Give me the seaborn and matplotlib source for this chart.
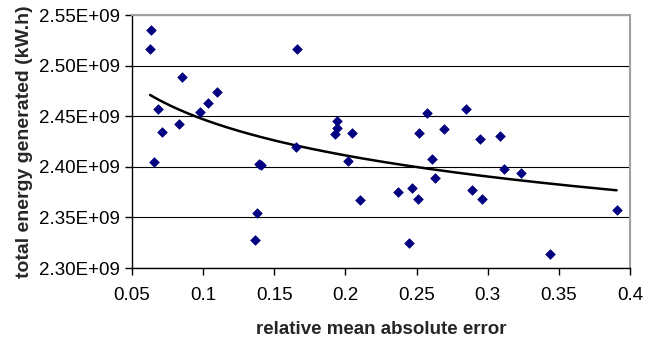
import numpy as np
import pandas as pd
import matplotlib
matplotlib.use("Agg")
import matplotlib.pyplot as plt
import seaborn as sns
from matplotlib.ticker import FuncFormatter, MultipleLocator

rel_mae = [0.0636, 0.0627, 0.1657, 0.085, 0.1096, 0.1035, 0.0681, 0.0977, 0.0831, 0.0714,
           0.1650, 0.0655, 0.1394, 0.1410, 0.1378, 0.1366, 0.1939, 0.1939, 0.1930, 0.2047,
           0.2017, 0.2099, 0.2371, 0.2467, 0.2507, 0.2449, 0.2516, 0.2575, 0.2610, 0.2627,
           0.2692, 0.2850, 0.2890, 0.2945, 0.2960, 0.3087, 0.3113, 0.3232, 0.3437, 0.3906]
energy = [2.5355, 2.516, 2.516, 2.489, 2.4736, 2.4627, 2.457, 2.4545, 2.442, 2.434,
          2.420, 2.4044, 2.403, 2.402, 2.354, 2.328, 2.4456, 2.438, 2.432, 2.433,
          2.406, 2.3675, 2.375, 2.3794, 2.3685, 2.3244, 2.433, 2.453, 2.408, 2.389,
          2.437, 2.457, 2.377, 2.427, 2.3685, 2.430, 2.3975, 2.394, 2.314, 2.357]
energy = [v * 1e9 for v in energy]

x_ticks = [0.05, 0.1, 0.15, 0.2, 0.25, 0.3, 0.35, 0.4]
x_tick_labels = ["0.05", "0.1", "0.15", "0.2", "0.25", "0.3", "0.35", "0.4"]

df = pd.DataFrame({"x": rel_mae, "y": energy})

# logarithmic trendline (least squares on ln x)
b, a = np.polyfit(np.log(df["x"]), df["y"], 1)
xt = np.linspace(df["x"].min(), df["x"].max(), 200)
trend = pd.DataFrame({"x": xt, "y": a + b * np.log(xt)})

sns.set_theme(style="white")
plt.rcParams["font.family"] = ["Liberation Sans", "DejaVu Sans"]

W, H = 654, 339
L, R, T, B = 132, 630, 15, 268
fig = plt.figure(figsize=(W / 100, H / 100), dpi=100)
ax = fig.add_axes([L / W, 1 - B / H, (R - L) / W, (B - T) / H])

ax.set_xlim(0.05, 0.4)
ax.set_ylim(2.30e9, 2.55e9)
ax.yaxis.set_major_locator(MultipleLocator(0.05e9))
ax.grid(axis="y", color="black", linewidth=0.8)
ax.set_axisbelow(True)

sns.lineplot(data=trend, x="x", y="y", ax=ax, color="black", linewidth=1.8, zorder=2)
sns.scatterplot(data=df, x="x", y="y", ax=ax, marker="D", s=24, color="#000080",
                edgecolor="#000080", linewidth=0.5, zorder=3)

ax.set_xticks(x_ticks)
ax.set_xticklabels(x_tick_labels)
ax.yaxis.set_major_formatter(FuncFormatter(lambda v, p: f"{v/1e9:.2f}E+09"))

for s in ["left", "bottom"]:
    ax.spines[s].set_color("black")
    ax.spines[s].set_linewidth(1.0)
for s in ["top", "right"]:
    ax.spines[s].set_color("#a0a0a0")
    ax.spines[s].set_linewidth(1.5)

ax.tick_params(axis="both", direction="out", length=5, width=1, color="black",
               labelsize=13.5, labelcolor="black", left=True, bottom=True)
ax.tick_params(axis="y", pad=4)
ax.tick_params(axis="x", pad=9)

ax.set_xlabel("relative mean absolute error", fontsize=13.5, fontweight="bold", va="center")
ax.xaxis.set_label_coords(0.5, (B - 329) / (B - T))
ax.set_ylabel("total energy generated (kW.h)", fontsize=14, fontweight="bold", va="center")
ax.yaxis.set_label_coords((25 - L) / (R - L), 0.5)

fig.savefig("out.png", dpi=100, facecolor="white")
